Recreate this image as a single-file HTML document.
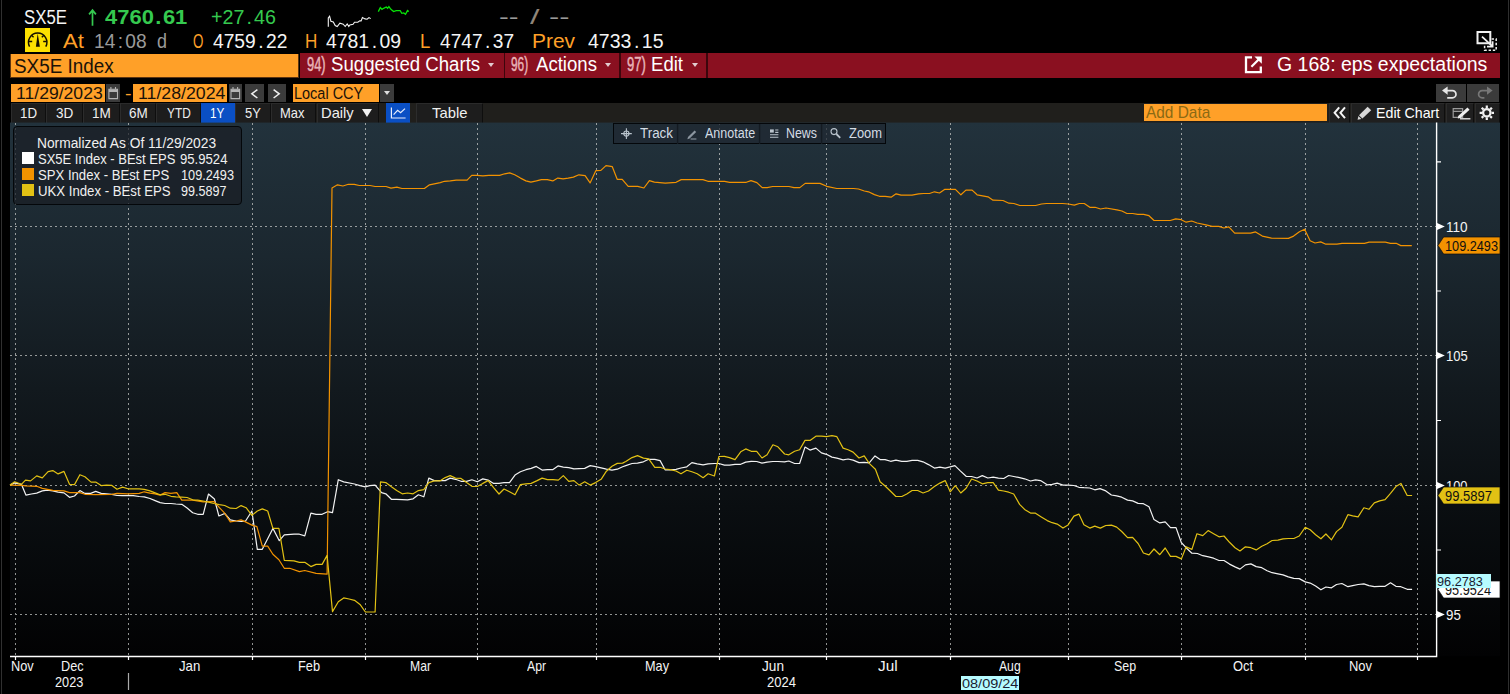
<!DOCTYPE html>
<html lang="en"><head><meta charset="utf-8"><title>SX5E Index - G 168: eps expectations</title>
<style>
html,body{margin:0;padding:0;background:#000}
body{width:1510px;height:694px;position:relative;overflow:hidden;font-family:"Liberation Sans",sans-serif}
.t{position:absolute;white-space:pre;line-height:1;transform-origin:0 0;display:block}
.t i{font-style:normal}
.b{position:absolute}
.chart{position:absolute;left:0;top:0}
.btn{position:absolute;background:#3b3b3b}
.tab{position:absolute;top:103px;height:19.7px;background:#1d1d1d;border-right:1px solid #0e0e0e;border-left:1px solid #2c2c2c;border-top:1px solid #2a2a2a;box-sizing:border-box}
.dd{position:absolute;width:0;height:0;border-left:3.2px solid transparent;border-right:3.2px solid transparent;border-top:4.6px solid #e2ccd0}
.sep{position:absolute;top:53px;height:25px;width:1.4px;background:#3c060c}
svg{display:block}
</style></head><body>
<!-- window edges -->
<div class="b" style="left:1px;top:0;width:1px;height:694px;background:#303030"></div>
<div class="b" style="left:1507.8px;top:0;width:1.4px;height:694px;background:#2e2e2e"></div>

<!-- header -->
<div class="b" id="gauge" style="left:25px;top:28px;width:25.2px;height:24px;background:#fde100">
<svg width="25.2" height="24" viewBox="0 0 25.2 24"><g fill="none" stroke="#141000" stroke-width="1.45">
<path d="M4.6 18.6A9.2 9.2 0 1 1 20.8 18.6"/><path d="M3.6 13.6H7.2M18.2 13.6H21.8M6.4 7.2L8.6 9.2M19 7.2L16.8 9.2"/></g>
<path d="M12.7 5.6L10.9 18.7H14.9Z" fill="#141000"/></svg></div>
<svg class="b" style="left:86px;top:8px" width="14" height="20" viewBox="0 0 14 20"><path d="M6.5 2.4V17.8M3.1 6.4L6.5 2.1L9.9 6.4" fill="none" stroke="#35c94f" stroke-width="1.7"/></svg>
<svg class="b" style="left:320px;top:0" width="100" height="32" viewBox="320 0 100 32" fill="none" stroke-width="1.1">
<path d="M328.3 26.8V17.9L329.6 16.2L330.9 21.2L333.3 21.9L335.2 25.5L337.2 26.5L339.9 23.2L343.2 24.2L345.2 26.5L347.2 23.9L348.8 26.5L349.8 24.9L353.1 24.2L354.5 22.2L357.8 22.2L359.8 20.9L361.1 20.9L362.4 17.6L365.1 18.9L367.1 19.2L369 17.6L370.7 18.6" stroke="#f4f4f4"/>
<path d="M378.3 11.6L380.3 7.6L382 9.3L383.6 8.3L386.3 7L387.6 8.3L388.9 6.6L390.9 9.3L393.6 11.6L396.2 10.6L400.2 10.6L401.8 13.3L403.8 12.9L405.5 14.2L407.5 10.6L408.8 11.6" stroke="#08e008" stroke-width="1.3"/></svg>
<!-- top-right window icon -->
<svg class="b" style="left:1474px;top:29px" width="26" height="25" viewBox="1474 29 26 25" fill="none" stroke="#f0f0f0">
<path d="M1477.5 32H1490.3V43.2H1477.5Z" stroke-width="2"/><path d="M1482 36.6L1492.2 46.2M1492.6 41.2V46.6H1487" stroke-width="1.8"/>
<path d="M1491.6 39H1496.2V50.2H1484.6V44.6" stroke-width="1.5" stroke-dasharray="2.4 1.8"/></svg>


<!-- security bar -->
<div class="b" style="left:10px;top:54px;width:289.4px;height:24px;background:#5e3410"></div><div class="b" style="left:11px;top:54px;width:287.4px;height:22.9px;background:#ffa028"></div>
<div class="b" style="left:300px;top:53px;width:1200px;height:25px;background:#8a1020"></div>
<div class="sep" style="left:503.8px"></div><div class="sep" style="left:619.4px"></div><div class="sep" style="left:706.4px"></div>
<div class="dd" style="left:488.4px;top:63px"></div><div class="dd" style="left:605.4px;top:63px"></div><div class="dd" style="left:692.2px;top:63px"></div>
<svg class="b" style="left:1243px;top:54px" width="22" height="22" viewBox="1243 54 22 22" fill="none" stroke="#fff" stroke-width="2.3">
<path d="M1252 57.4H1246V72.2H1260.8V66.4"/><path d="M1251.4 66.8L1260.4 57.8" stroke-width="2.2"/><path d="M1254.4 56.4H1261.8V63.8Z" fill="#fff" stroke="none"/></svg>

<!-- date row -->
<div class="b" style="left:11px;top:84px;width:94px;height:17.8px;background:#ffa028"></div>
<div class="btn" style="left:106.4px;top:84px;width:13.6px;height:17.8px"></div>
<div class="b" style="left:132.6px;top:84px;width:94.8px;height:17.8px;background:#ffa028"></div>
<div class="btn" style="left:228.5px;top:84px;width:13.6px;height:17.8px"></div>
<div class="btn" style="left:245.3px;top:84px;width:18.9px;height:17.8px"></div>
<div class="btn" style="left:267.5px;top:84px;width:18px;height:17.8px"></div>
<div class="b" style="left:292.6px;top:84px;width:86px;height:17.8px;background:#ffa028"></div>
<div class="btn" style="left:380px;top:84px;width:14px;height:17.8px"></div>
<div class="dd" style="left:383.8px;top:91px;border-top-color:#e0e0e0"></div>
<svg class="b" style="left:106px;top:84px" width="140" height="18" viewBox="106 84 140 18" fill="none" stroke="#b4b4b4" stroke-width="1.1">
<path d="M108.9 89.2H117.5V98.6H108.9ZM108.9 91.4H117.5M110.9 87V89.6M115.5 87V89.6"/><path d="M108.9 89.4H117.5V91.2H108.9Z" fill="#b4b4b4" stroke="none"/>
<path d="M231 89.2H239.6V98.6H231ZM231 91.4H239.6M233 87V89.6M237.6 87V89.6"/><path d="M231 89.4H239.6V91.2H231Z" fill="#b4b4b4" stroke="none"/></svg>
<svg class="b" style="left:245px;top:84px" width="42" height="18" viewBox="245 84 42 18" fill="none" stroke="#f0f0f0" stroke-width="1.5">
<path d="M257.4 89.6L251.8 93.8L257.4 98"/><path d="M273.6 89.6L279.2 93.8L273.6 98"/></svg>
<div class="btn" style="left:1435.8px;top:84px;width:30.2px;height:17.6px"></div>
<div class="btn" style="left:1467.2px;top:84px;width:32.2px;height:17.6px"></div>
<svg class="b" style="left:1435px;top:84px" width="66" height="18" viewBox="1435 84 66 18" fill="none">
<path d="M1446.8 90.6H1452.4A3.6 3.6 0 0 1 1452.4 97.8H1447.2" stroke="#e6e6e6" stroke-width="1.7"/><path d="M1442 90.6L1447.6 86.4V94.8Z" fill="#e6e6e6"/>
<path d="M1487.8 90.6H1482.2A3.6 3.6 0 0 0 1482.2 97.8H1484.4" stroke="#777" stroke-width="1.7"/><path d="M1492.6 90.6L1487 86.4V94.8Z" fill="#777"/></svg>

<!-- range tab row -->
<div class="b" style="left:11px;top:103px;width:1489px;height:19.7px;background:#201f1c"></div>
<div class="tab" style="left:11px;width:35.4px"></div>
<div class="tab" style="left:46.4px;width:36.8px"></div>
<div class="tab" style="left:83.2px;width:36.6px"></div>
<div class="tab" style="left:119.8px;width:36.4px"></div>
<div class="tab" style="left:156.2px;width:44.4px"></div>
<div class="tab" style="left:200.6px;width:34.2px;background:#0a4fc4;border-color:#0a4fc4"></div>
<div class="tab" style="left:234.8px;width:36.2px"></div>
<div class="tab" style="left:271px;width:44.6px"></div>
<div class="tab" style="left:317px;width:62px"></div>
<div class="tab" style="left:385.6px;width:24.6px;background:#0a4fc4;border-color:#0a4fc4"></div>
<div class="tab" style="left:415.6px;width:67.6px"></div>
<div class="b" style="left:362.2px;top:109.2px;width:0;height:0;border-left:5px solid transparent;border-right:5px solid transparent;border-top:8.4px solid #f0f0f0"></div>
<svg class="b" style="left:385.6px;top:103.2px" width="24.6" height="19.4" viewBox="0 0 24.6 19.4" fill="none" stroke="#e8eefc" stroke-width="1.2">
<path d="M5.4 4.4V15H19.6"/><path d="M7.6 11.6L11.6 7.4L14.6 9.8L19 5.6"/></svg>
<div class="b" style="left:1144px;top:103.6px;width:183.4px;height:17.8px;background:#ffa028"></div>
<div class="tab" style="left:1329px;width:21px;background:#1f1f1f"></div>
<div class="tab" style="left:1351.4px;width:93.8px;background:#1f1f1f"></div>
<div class="tab" style="left:1446.2px;width:27.6px;background:#1f1f1f"></div>
<div class="tab" style="left:1474.6px;width:25.4px;background:#1f1f1f"></div>
<svg class="b" style="left:1329px;top:103px" width="171" height="20" viewBox="1329 103 171 20" fill="none">
<path d="M1339.2 107.4L1334.6 112.8L1339.2 118.2M1345 107.4L1340.4 112.8L1345 118.2" stroke="#f4f4f4" stroke-width="2"/>
<path d="M1367.6 106.8L1371.2 110.2L1362.4 118.4L1359 115.2Z" fill="#d8d8d8"/><path d="M1358.4 116L1361.4 119L1357.6 119.8Z" fill="#d8d8d8"/>
<path d="M1453.2 108.6H1462.6V117.4H1453.2ZM1453.2 111.4H1462.6" stroke="#9a9a9a" stroke-width="1.2"/>
<path d="M1467.4 107.6L1469.6 109.8L1460.4 118L1457.8 118.6L1458.2 116Z" fill="#f0f0f0"/><path d="M1460 118.8H1470.4" stroke="#f0f0f0" stroke-width="1.3"/>
<g stroke="#f0f0f0"><circle cx="1486.8" cy="112.8" r="3.7" stroke-width="2.3"/>
<path d="M1486.8 105.6V108M1486.8 117.6V120M1479.6 112.8H1482M1491.6 112.8H1494M1481.7 107.7L1483.4 109.4M1490.2 116.2L1491.9 117.9M1481.7 117.9L1483.4 116.2M1490.2 109.4L1491.9 107.7" stroke-width="2.2"/></g></svg>

<!-- chart -->
<svg class="chart" width="1510" height="694" viewBox="0 0 1510 694">
<defs><linearGradient id="bg" x1="0" y1="0" x2="0" y2="1"><stop offset="0" stop-color="#22323c"/><stop offset="0.25" stop-color="#1b272f"/><stop offset="0.5" stop-color="#12191e"/><stop offset="0.72" stop-color="#0a0e11"/><stop offset="1" stop-color="#020203"/></linearGradient></defs>
<rect x="10" y="122.6" width="1490" height="534" fill="url(#bg)"/>
<rect x="10" y="656.6" width="1490" height="38" fill="#000"/>
<path d="M15.5 123V656M128.5 123V656M252.5 123V656M365.5 123V656M477.5 123V656M596.5 123V656M719.5 123V656M826.5 123V656M950.5 123V656M1068.5 123V656M1181.5 123V656M1305.5 123V656M1417.5 123V656M10 226.5H1436M10 355.5H1436M10 485.5H1436M10 614.5H1436" stroke="#c4c6c4" stroke-width="1" stroke-dasharray="2 3" fill="none" opacity="0.74" shape-rendering="crispEdges"/>
<!--LINES-->
<path d="M10 485.1 L14.7 482.9 L21.4 484.3 L25.9 495.1 L31.4 494 L36.7 493.1 L42.3 490.9 L47.3 490.1 L52.8 490.9 L58.1 492.1 L64 492.9 L69.5 497.3 L74.5 496 L79.9 490.6 L84.9 493.4 L90.7 493.4 L95.7 491.4 L101.2 493.4 L106.6 493.8 L111.9 494.3 L117 495.5 L122.5 495.6 L128 495.6 L133.3 495.6 L139.2 496.5 L144.2 496.8 L150 498.5 L155.1 500.6 L160.1 502.6 L165.1 503.5 L170.9 503.5 L175.9 504 L181.8 504.3 L187.1 508 L192.7 512.7 L197.7 514.3 L203.2 514.3 L208.5 494 L214.4 499 L218.9 516 L224.7 513.5 L230.3 519.9 L236.1 521 L241.1 521.3 L245.4 521.2 L251.9 511 L257.3 549.3 L262.3 549.3 L272.9 528.4 L279.3 540.7 L284.3 534.8 L294 534.2 L299.4 534.2 L304.8 535.9 L310.9 513.2 L316.1 514.3 L322.1 514.3 L327.5 511.7 L332.5 512.6 L338.3 479.7 L343.7 481.9 L354.5 484 L359.9 485.6 L365.4 486.9 L369.7 485.6 L375.1 485.1 L381.6 492.7 L385.8 493.8 L391.4 499.3 L396.7 499.3 L407.6 499.8 L413.1 498.8 L418.4 494.8 L423.8 496.8 L428.8 478.1 L434.3 480.6 L445.2 480.6 L450.2 478.1 L455.5 479.3 L461 481.3 L466.6 481.4 L471.9 479.8 L477.3 481.8 L482.8 478.9 L488.1 480.1 L493.6 483.4 L499 483.4 L504 482.6 L509.5 482.6 L515 475.1 L520.4 471.8 L525.9 469.7 L531.2 468.4 L536.3 466.4 L542.1 470.1 L547.4 469.6 L553 469.6 L558 465.9 L563.3 467.1 L568.8 467.6 L573.9 468.9 L579.2 468.7 L584.7 468.4 L590.2 465.6 L595.6 466.7 L601.1 467.9 L606.4 469.2 L612 470.1 L617.3 469.2 L622.6 466.7 L625.8 465.6 L632 463.5 L637.5 463.1 L643.4 461.8 L648.7 459.3 L654.8 459.3 L660.1 460.6 L665.1 469.8 L670.1 469.8 L676 469.3 L681 468 L686.8 466.8 L691.9 462.6 L697.2 463.8 L703.1 464.8 L708.1 463.8 L714.4 463.5 L718.9 463.5 L724.4 465.1 L729.5 465.1 L735 464.3 L740.7 464.3 L745.7 462.1 L751.2 461.3 L756.7 461.5 L762 463.1 L767.1 462.1 L772.9 461.5 L777.9 461.5 L784.6 461.8 L788.8 461 L794.6 463.5 L799.6 463.5 L805 447.1 L810 450.1 L815.9 448.1 L821.4 452.9 L826.4 454.3 L831.9 457.1 L836.9 458.1 L843.1 459.8 L848.1 459 L853.1 460.1 L859 462.6 L864.2 462.3 L869.2 462.9 L875 455.9 L880.1 459.6 L885.1 459.6 L890.6 461.3 L895.9 460.1 L901.8 461.3 L906.8 461.3 L912.1 460.4 L917.7 460.4 L923 461.8 L928.5 464.6 L934.4 468.1 L939.9 467.1 L945.2 468.1 L950.2 466.8 L954.9 465.6 L960.3 470.9 L966.1 476.3 L971.6 476.5 L977 478 L982.3 475.6 L987.8 478 L993.2 477.1 L998.4 478.1 L1003.7 478.5 L1008.7 475.5 L1013.7 476.5 L1019.6 477.6 L1024.6 478.8 L1030.5 481 L1035.5 479.8 L1040.5 480.6 L1047.2 484.8 L1052.2 484.3 L1057.2 483.1 L1063 485.1 L1068.1 485.1 L1073.9 485.5 L1078.9 487.3 L1083.9 487.7 L1089.8 488 L1094.8 489.8 L1100 488.6 L1105.8 490.9 L1111.4 495 L1116.7 495.9 L1121.7 497.2 L1127.6 500.1 L1132.6 500.9 L1138.1 503.4 L1143.4 503.7 L1149 506.7 L1154 519.6 L1159.8 522.9 L1165.2 521.8 L1170.5 527.6 L1176 527.6 L1181.4 542.7 L1186.9 548.5 L1191.9 553.2 L1197.4 553.5 L1202.8 555.7 L1208.6 556.9 L1213.6 558.2 L1219 560.5 L1224 560.5 L1229.5 564.1 L1235 566.9 L1240 569.1 L1245.4 564.9 L1250.9 563.9 L1256.2 566.6 L1261.8 567.7 L1267.1 570.7 L1272.1 572.7 L1278 573.9 L1283 574.9 L1288.3 576.9 L1293.8 578.3 L1299.2 578.6 L1305.2 581.9 L1310.2 583.1 L1315.6 586.1 L1320.9 589.8 L1325.9 587 L1331.5 587.8 L1336.5 584.5 L1341.9 583.5 L1347.9 586.7 L1352.7 585.6 L1358.1 584.5 L1363.9 583.9 L1368.9 585.6 L1374.3 586.7 L1379.7 586.3 L1385.1 586.3 L1390.5 582.8 L1395.9 586.3 L1400.9 586.7 L1407.2 589.3 L1412.1 589.3" stroke="#f2f2f2" stroke-width="1.2" fill="none" stroke-linejoin="round"/>
<path d="M10 485.1 L21.4 485.4 L25.9 485.9 L36.7 486.3 L42.3 488.4 L52.8 490.4 L64 490.9 L69.5 492.6 L79.9 492.6 L84.9 494.3 L95.7 494.6 L111.9 494.3 L117 493.4 L128 493.8 L139.2 493.4 L144.2 491.8 L150 493.1 L155.1 493.8 L160.1 495.1 L165.1 492.6 L170.9 493.4 L176.8 492.6 L181.8 500.1 L192.7 500.1 L203.2 501.8 L213.9 501.5 L219.4 507.7 L224.7 513.2 L230.3 521.9 L236.1 521 L241.1 519.9 L245.4 521.9 L251.9 525.1 L256.9 526.6 L262.3 546.1 L267.7 546.1 L272.9 554.3 L278.9 559.7 L284.3 568.3 L289.7 568.3 L299.4 571.6 L304.8 570.5 L316.1 573.3 L327.1 574.2 L332 188 L337.5 184.8 L342.9 186 L348.4 184.3 L354.3 184.3 L359.3 185.5 L370.1 185.5 L375.1 186.5 L386 186.5 L391 188.1 L396.9 187.1 L401.9 188.5 L424.4 188.5 L429.5 184.8 L440.3 182.6 L444.5 181.3 L450.3 180.9 L456.2 180.1 L467.1 180.1 L471.7 175.4 L477.1 175.4 L482.9 175.9 L488.8 175.4 L499.6 175.4 L504.7 173.8 L509.7 172.9 L514.7 174.8 L520.5 178.1 L525.9 180.9 L530.9 182.1 L536.4 180.9 L541.4 179.6 L547.3 179.6 L552.8 180.9 L557.8 178.1 L563.1 178.9 L568.2 178.1 L573.4 177.1 L578.9 174.8 L585.1 175.6 L590.1 182.9 L595.9 170.6 L600.9 170.4 L606 165.6 L612.3 166.7 L617.2 179.3 L622.2 179.3 L628.2 186.3 L637.7 186.3 L643.9 188 L649.4 180.6 L654.4 182.1 L665.3 183.1 L676.1 182.3 L681.2 179.6 L702.9 179.6 L707.9 181.3 L724.6 181.3 L729.6 182.3 L746.3 182.3 L751 180.6 L756.9 182.6 L762.2 187.6 L767.2 187.6 L772.6 186.5 L788.9 186.5 L794 187.6 L799.8 187.6 L805.2 183.4 L820 183.4 L826.7 186.3 L836.8 188.5 L853.5 188.5 L858.5 189 L864.3 191 L868.5 191.8 L874.4 194.6 L879.4 196.3 L885.2 196.3 L891.1 197.2 L896.1 193.8 L901.1 195.1 L912 195.1 L918.6 193.8 L923.7 193.5 L929.5 193.5 L934.5 191.8 L939.5 193 L944.9 189.3 L955.4 189.3 L960.9 194.8 L965.9 190.1 L972.1 190.1 L977.1 194.8 L988 196.8 L993 200.2 L1003 200.5 L1008.9 203.2 L1013.9 203.5 L1019.8 205.5 L1035.6 205.5 L1041.5 204 L1046.5 203.5 L1062.6 203.5 L1068.4 204 L1074.3 205.1 L1079.3 203.5 L1084.3 203.5 L1089.8 207.3 L1095.1 207.3 L1100.5 209 L1106 208 L1116.9 209.8 L1121.9 211 L1126.9 213.5 L1132.7 213.5 L1137.8 214.3 L1143.6 214.3 L1149 215.7 L1154 220.5 L1170.3 220.5 L1175.7 218.9 L1181.2 219.7 L1186.2 222.2 L1191.7 221 L1197.1 223 L1207.1 225.2 L1212.1 226.4 L1218.8 226.4 L1223.8 228 L1228.8 226.9 L1234.7 233.2 L1250.6 233.2 L1255.6 231.9 L1262.3 236.1 L1271.5 238.2 L1288.4 238.4 L1293.6 236.1 L1299.4 231.7 L1304.6 229.2 L1310.1 240.7 L1315 243 L1320.7 241.9 L1325.9 244.2 L1336.9 244.2 L1342 243.3 L1364.5 243.3 L1369.1 242.2 L1385.3 242.2 L1390.4 243.3 L1396.2 243.3 L1400.8 245.6 L1411.8 245.6" stroke="#f29200" stroke-width="1.2" fill="none" stroke-linejoin="round"/>
<path d="M10 485.1 L14.7 481.8 L21.4 484.3 L25.5 480.1 L30.6 480.9 L36.7 475.9 L42.3 477.9 L48.1 471.7 L52.8 470.6 L58.1 473.9 L64 471.4 L69.5 484.3 L74.5 484.6 L79.9 474.7 L84.9 476.7 L91.1 482.1 L95.7 482.1 L101.2 485.6 L106.6 485.1 L111.9 485.4 L117 489.3 L122.5 487.1 L128 488.8 L133.3 488.8 L139.2 488.8 L144.2 489.3 L150 490.9 L155.1 492.9 L160.1 494.8 L165.1 494.3 L170.9 496.3 L175.9 496.8 L181.8 497.1 L187.1 497.5 L192.7 499.8 L197.7 500.1 L203.2 501 L208.5 502.1 L213.9 503.5 L219.4 504.6 L224.7 505.5 L230.3 508.2 L236.1 508.5 L241.1 505.6 L246.1 507.7 L251.9 515.4 L257.3 511 L262.3 508.9 L267.7 511 L272.9 528.4 L278.9 528.4 L284.3 560.3 L294 560.8 L299.4 562.3 L304.8 562.3 L310.9 566.6 L316.1 564.4 L322.1 564.4 L327.1 555.4 L332.5 611.6 L338.3 601.8 L343.7 597.9 L349.1 599 L354.5 600.3 L360 604.4 L365.4 612 L375.1 612 L380.5 481.9 L385.8 482.6 L391.4 486.8 L396.7 490.5 L402.2 493.8 L407.6 493 L413.1 493.8 L418.4 490.6 L423.8 489.6 L428.8 482.6 L434.3 480.9 L439.8 480.9 L445.2 477.6 L450.2 475.6 L455.5 478.1 L461 478.4 L466.6 482.6 L471.9 486.3 L477.3 486.5 L482.8 483.4 L488.1 480.6 L493.6 487.6 L499 494 L504 489 L509.5 491.8 L515 494.8 L520.4 484.6 L525.9 483.8 L531.2 483.4 L536.6 480.9 L542.1 478.1 L547.4 479.6 L553 479.6 L558.3 480.1 L563.3 475.6 L568.8 481.4 L573.9 480.6 L579.2 485.1 L584.7 481.8 L590.2 485.1 L595.6 482.6 L601.1 479.3 L606.4 471.2 L612 466.2 L617.3 463.4 L622.6 463.1 L625.8 461.5 L632 457.6 L637.5 455.6 L643.4 458.1 L648.7 458.8 L654.8 467.3 L660.1 467.3 L665.1 469 L670.1 469.7 L676 471 L681 473.8 L686.8 470.2 L691.9 471.8 L697.2 473.8 L703.1 477.7 L708.1 473.8 L714.4 476 L718.9 456.5 L724.4 456.3 L729.5 457.6 L735 459.6 L740.7 451.8 L745.7 448.9 L751.2 451.3 L756.7 451.3 L762 458 L767.1 454.8 L772.9 444.8 L777.9 446.8 L784.6 454 L788.8 454.8 L794.6 451.3 L799.6 449.8 L805 440.4 L810 440.4 L815.9 436.2 L821.4 436.2 L826.4 436.7 L831.9 435.6 L836.9 436.7 L843.1 448.1 L848.1 449.8 L853.1 452.1 L859 458 L864.2 455.9 L869.2 463.4 L875.4 469.3 L880.1 481.8 L885.1 486 L890.6 491.3 L895.9 496.5 L901.8 496.5 L906.8 494 L912.1 490.5 L917.7 490.5 L923 493 L928.5 491 L934.4 486.5 L939.9 483.1 L945.2 480.6 L950.2 491.8 L955.3 485.6 L960.8 493 L966.1 488.2 L971.6 479 L977 481 L982.3 483.8 L987.8 482.6 L993.2 482.6 L998.4 490.2 L1003.7 491 L1008.7 492.2 L1013.7 494 L1019.6 504.4 L1024.6 509.4 L1030.5 513.1 L1035.5 513.2 L1041.3 516.9 L1047.2 520.6 L1052.2 522.7 L1057.2 524.1 L1063 528.1 L1068.1 524.9 L1073.9 516.1 L1078.9 514.1 L1083.9 524.8 L1089.8 528.1 L1094.8 526.1 L1100.3 528.1 L1105.8 525.5 L1111.4 525.1 L1116.7 527.1 L1121.7 531.5 L1127.6 537.7 L1132.6 537.3 L1138.1 543.5 L1143.4 553 L1149 554.9 L1154 549 L1159.8 554.7 L1165.2 548 L1170.5 556.4 L1176 556.4 L1181.4 558.9 L1186.1 546.8 L1191.9 549.4 L1196.9 533.8 L1202.8 535.6 L1208.1 530.6 L1213.6 533.8 L1219 536.8 L1224 536 L1229.5 542.3 L1235 547.7 L1240 551 L1245.4 546.8 L1250.9 547.7 L1256.2 549.9 L1261.8 546.3 L1267.1 543.8 L1272.1 540.5 L1278 540.2 L1283 538.8 L1288.3 538.5 L1293.8 538.5 L1299.2 536 L1305.2 527.3 L1310.2 529.8 L1315.6 534.8 L1320.9 538.8 L1325.9 534 L1331.5 539.8 L1336.5 531.6 L1341.9 527.3 L1347.9 514.7 L1352.7 515.8 L1358.1 516.9 L1363.9 507.8 L1368.9 509.3 L1374.3 502.9 L1379.7 500.9 L1385.1 499.6 L1390.5 493.3 L1395.9 486.6 L1400.9 483.4 L1407.2 495.5 L1412.1 495.5" stroke="#e2c114" stroke-width="1.2" fill="none" stroke-linejoin="round"/>
<path d="M1436.6 122.6V657.2M10 656.5H1437.2" stroke="#fff" stroke-width="1.4" fill="none"/>
<path d="M15.5 656V660M128.5 656V660M252.5 656V660M365.5 656V660M477.5 656V660M596.5 656V660M719.5 656V660M826.5 656V660M950.5 656V660M1068.5 656V660M1181.5 656V660M1305.5 656V660M1417.5 656V660" stroke="#fff" stroke-width="1.2" fill="none"/>
<path d="M1437 161.9H1441M1437 291H1441M1437 420.5H1441M1437 550H1441" stroke="#fff" stroke-width="1.2" fill="none"/>
<path d="M1437 223.1L1444.8 226.5L1437 229.9Z" fill="#fff"/>
<path d="M1437 352.1L1444.8 355.5L1437 358.9Z" fill="#fff"/>
<path d="M1437 482.1L1444.8 485.5L1437 488.9Z" fill="#fff"/>
<path d="M1437 611.1L1444.8 614.5L1437 617.9Z" fill="#fff"/>
<path d="M128.5 673V690" stroke="#aaa" stroke-width="1.2"/>
</svg>
<div class="b" style="left:13px;top:126px;width:228.6px;height:79.4px;background:rgba(26,31,38,.72);border:1px solid #04070a;border-radius:4px;box-sizing:border-box"></div>
<div class="b" style="left:22px;top:152px;width:12px;height:12px;background:#fff"></div>
<div class="b" style="left:22px;top:168px;width:12px;height:12px;background:#f29200"></div>
<div class="b" style="left:22px;top:184px;width:12px;height:12px;background:#e2c114"></div>
<div class="b" style="left:613px;top:123px;width:272.6px;height:21.4px;background:rgba(33,41,50,.74);border:1px solid #04070a;box-sizing:border-box"></div>
<svg class="b" style="left:613px;top:123px" width="273" height="22" viewBox="613 123 273 22" fill="none" stroke="#b9c3cc" stroke-width="1.1">
<path d="M677.6 124V144M759.6 124V144M821.6 124V144" stroke="#141b22" stroke-width="1.4"/>
<circle cx="626.4" cy="133.6" r="2.6"/><path d="M626.4 128.2V139M621 133.6H631.8"/>
<path d="M688 137L694.6 130.4L696.2 132L689.6 138.6L687.4 139.2Z" fill="#8c96a0" stroke="none"/><path d="M690.6 139H696.4" stroke="#8c96a0"/>
<path d="M770 129.4H773.8V132.6H770Z" fill="#b9c3cc" stroke="none"/><path d="M775.2 130H778.4M775.2 132.4H778.4M770 134.8H778.4M770 137.2H778.4" />
<circle cx="834" cy="131.6" r="3"/><path d="M836.4 134L840.2 137.8" stroke-width="1.8"/></svg>
<span class="t" style="left:24.38px;top:8px;font-size:19.6px;color:#f4f4f4;transform:scaleX(0.8565)">SX5E</span>
<span class="t" style="left:105px;top:8px;font-size:19.6px;color:#35c94f;transform:scaleX(1.1211);font-weight:bold">4760<i style="padding:0 1.3px">.</i>61</span>
<span class="t" style="left:211.18px;top:8px;font-size:19.6px;color:#35c94f;transform:scaleX(1.0051)">+27<i style="padding:0 2.1px">.</i>46</span>
<span class="t" style="left:499.08px;top:8px;font-size:19.6px;color:#9a9a9a;transform:scaleX(1.5000)">--</span>
<span class="t" style="left:530px;top:7px;font-size:20.6px;color:#8f8578;transform:scaleX(1.6570)">/</span>
<span class="t" style="left:548.64px;top:8px;font-size:19.6px;color:#9a9a9a;transform:scaleX(1.5682)">--</span>
<span class="t" style="left:62.6px;top:32px;font-size:19.6px;color:#ffa028;transform:scaleX(1.1299)">At</span>
<span class="t" style="left:94.1px;top:32px;font-size:19.6px;color:#9a9a9a;transform:scaleX(0.9782)">14<i style="padding:0 2.4px">:</i>08</span>
<span class="t" style="left:156.94px;top:32px;font-size:19.6px;color:#9a9a9a;transform:scaleX(0.9143)">d</span>
<span class="t" style="left:193.37px;top:32px;font-size:19.6px;color:#ffa028;transform:scaleX(0.6827)">O</span>
<span class="t" style="left:213px;top:32px;font-size:19.6px;color:#f4f4f4;transform:scaleX(0.9806)">4759<i style="padding:0 2.5px">.</i>22</span>
<span class="t" style="left:305.27px;top:32px;font-size:19.6px;color:#ffa028;transform:scaleX(0.8707)">H</span>
<span class="t" style="left:325.7px;top:32px;font-size:19.6px;color:#f4f4f4;transform:scaleX(0.9900)">4781<i style="padding:0 2.5px">.</i>09</span>
<span class="t" style="left:420.15px;top:32px;font-size:19.6px;color:#ffa028;transform:scaleX(0.9458)">L</span>
<span class="t" style="left:439.7px;top:32px;font-size:19.6px;color:#f4f4f4;transform:scaleX(0.9766)">4747<i style="padding:0 2.5px">.</i>37</span>
<span class="t" style="left:531.96px;top:32px;font-size:19.6px;color:#ffa028;transform:scaleX(1.0679)">Prev</span>
<span class="t" style="left:588.3px;top:32px;font-size:19.6px;color:#f4f4f4;transform:scaleX(0.9953)">4733<i style="padding:0 2.5px">.</i>15</span>
<span class="t" style="left:14.11px;top:57px;font-size:19.6px;color:#1a1208;transform:scaleX(0.9631)">SX5E Index</span>
<span class="t" style="left:306.99px;top:54px;font-size:20px;color:#e8b4b8;transform:scaleX(0.6460);-webkit-text-stroke:0.5px #e8b4b8">94)</span>
<span class="t" style="left:331.02px;top:54px;font-size:20px;color:#ffffff;transform:scaleX(0.9317)">Suggested Charts</span>
<span class="t" style="left:511.44px;top:54px;font-size:20px;color:#e8b4b8;transform:scaleX(0.5941);-webkit-text-stroke:0.5px #e8b4b8">96)</span>
<span class="t" style="left:535.6px;top:54px;font-size:20px;color:#ffffff;transform:scaleX(0.9298)">Actions</span>
<span class="t" style="left:627.39px;top:54px;font-size:20px;color:#e8b4b8;transform:scaleX(0.6535);-webkit-text-stroke:0.5px #e8b4b8">97)</span>
<span class="t" style="left:650.95px;top:54px;font-size:20px;color:#ffffff;transform:scaleX(0.9282)">Edit</span>
<span class="t" style="left:1276.69px;top:54px;font-size:20px;color:#ffffff;transform:scaleX(0.9751)">G 168: eps expectations</span>
<span class="t" style="left:15.8px;top:86px;font-size:16.8px;color:#1a1208;transform:scaleX(1.0480)">11/29/2023</span>
<span class="t" style="left:125.19px;top:86px;font-size:16.8px;color:#ffa028;transform:scaleX(1.1653)">-</span>
<span class="t" style="left:138.19px;top:86px;font-size:16.8px;color:#1a1208;transform:scaleX(1.0557)">11/28/2024</span>
<span class="t" style="left:293.87px;top:86px;font-size:16.8px;color:#1a1208;transform:scaleX(0.8629)">Local CCY</span>
<span class="t" style="left:20.07px;top:106px;font-size:15.6px;color:#f0f0f0;transform:scale(0.8521,0.9167)">1D</span>
<span class="t" style="left:56.18px;top:106px;font-size:15.6px;color:#f0f0f0;transform:scale(0.8671,0.9167)">3D</span>
<span class="t" style="left:92.15px;top:106px;font-size:15.6px;color:#f0f0f0;transform:scale(0.8705,0.9167)">1M</span>
<span class="t" style="left:129.17px;top:106px;font-size:15.6px;color:#f0f0f0;transform:scale(0.8648,0.9167)">6M</span>
<span class="t" style="left:166.71px;top:106px;font-size:15.6px;color:#f0f0f0;transform:scale(0.7595,0.9167)">YTD</span>
<span class="t" style="left:210.27px;top:106px;font-size:15.6px;color:#ffffff;transform:scale(0.7526,0.9167)">1Y</span>
<span class="t" style="left:245.3px;top:106px;font-size:15.6px;color:#f0f0f0;transform:scale(0.8303,0.9167)">5Y</span>
<span class="t" style="left:280.49px;top:106px;font-size:15.6px;color:#f0f0f0;transform:scale(0.8318,0.9167)">Max</span>
<span class="t" style="left:321.25px;top:106px;font-size:15.6px;color:#f0f0f0;transform:scale(0.9446,0.9167)">Daily</span>
<span class="t" style="left:432.17px;top:106px;font-size:15.6px;color:#f0f0f0;transform:scale(0.9501,0.9167)">Table</span>
<span class="t" style="left:1145.6px;top:104px;font-size:17px;color:#8a6a14;transform:scaleX(0.9072)">Add Data</span>
<span class="t" style="left:1376.19px;top:106px;font-size:15.6px;color:#ffffff;transform:scale(0.9121,0.9167)">Edit Chart</span>
<span class="t" style="left:639.79px;top:126px;font-size:14px;color:#d4dce4;transform:scaleX(0.9571)">Track</span>
<span class="t" style="left:705.4px;top:126px;font-size:14px;color:#d4dce4;transform:scaleX(0.8940)">Annotate</span>
<span class="t" style="left:786.43px;top:126px;font-size:14px;color:#d4dce4;transform:scaleX(0.8842)">News</span>
<span class="t" style="left:848.6px;top:126px;font-size:14px;color:#d4dce4;transform:scaleX(0.9242)">Zoom</span>
<span class="t" style="left:37.32px;top:136px;font-size:14px;color:#f0f0f0;transform:scaleX(0.9848)">Normalized As Of 11/29/2023</span>
<span class="t" style="left:37.99px;top:152px;font-size:14px;color:#f0f0f0;transform:scaleX(0.9290)">SX5E Index - BEst EPS</span>
<span class="t" style="left:180.18px;top:152px;font-size:14px;color:#f0f0f0;transform:scaleX(0.9375)">95.9524</span>
<span class="t" style="left:37.99px;top:168px;font-size:14px;color:#f0f0f0;transform:scaleX(0.9372)">SPX Index - BEst EPS</span>
<span class="t" style="left:180.81px;top:168px;font-size:14px;color:#f0f0f0;transform:scaleX(0.9078)">109.2493</span>
<span class="t" style="left:37.58px;top:184px;font-size:14px;color:#f0f0f0;transform:scaleX(0.9414)">UKX Index - BEst EPS</span>
<span class="t" style="left:181.01px;top:184px;font-size:14px;color:#f0f0f0;transform:scaleX(0.8971)">99.5897</span>
<span class="t" style="left:1445.85px;top:219px;font-size:15px;color:#f4f4f4;transform:scaleX(0.9026)">110</span>
<span class="t" style="left:1445.89px;top:348px;font-size:15px;color:#f4f4f4;transform:scaleX(0.8688)">105</span>
<span class="t" style="left:1445.89px;top:478px;font-size:15px;color:#f4f4f4;transform:scaleX(0.8602)">100</span>
<span class="t" style="left:1445.87px;top:607px;font-size:15px;color:#f4f4f4;transform:scaleX(0.8911)">95</span>
<span class="t" style="left:11.2px;top:659px;font-size:14.4px;color:#f4f4f4;transform:scaleX(0.8863)">Nov</span>
<span class="t" style="left:60.71px;top:659px;font-size:14.4px;color:#f4f4f4;transform:scaleX(0.8822)">Dec</span>
<span class="t" style="left:179.39px;top:659px;font-size:14.4px;color:#f4f4f4;transform:scaleX(0.9196)">Jan</span>
<span class="t" style="left:297.5px;top:659px;font-size:14.4px;color:#f4f4f4;transform:scaleX(0.8873)">Feb</span>
<span class="t" style="left:409.75px;top:659px;font-size:14.4px;color:#f4f4f4;transform:scaleX(0.8473)">Mar</span>
<span class="t" style="left:527px;top:659px;font-size:14.4px;color:#f4f4f4;transform:scaleX(0.8506)">Apr</span>
<span class="t" style="left:645.01px;top:659px;font-size:14.4px;color:#f4f4f4;transform:scaleX(0.8819)">May</span>
<span class="t" style="left:761.79px;top:659px;font-size:14.4px;color:#f4f4f4;transform:scaleX(0.9466)">Jun</span>
<span class="t" style="left:878.36px;top:659px;font-size:14.4px;color:#f4f4f4;transform:scaleX(1.0677)">Jul</span>
<span class="t" style="left:999px;top:659px;font-size:14.4px;color:#f4f4f4;transform:scaleX(0.8463)">Aug</span>
<span class="t" style="left:1114.01px;top:659px;font-size:14.4px;color:#f4f4f4;transform:scaleX(0.8622)">Sep</span>
<span class="t" style="left:1232.9px;top:659px;font-size:14.4px;color:#f4f4f4;transform:scaleX(0.8955)">Oct</span>
<span class="t" style="left:1348.99px;top:659px;font-size:14.4px;color:#f4f4f4;transform:scaleX(0.8986)">Nov</span>
<span class="t" style="left:54.7px;top:675px;font-size:14.4px;color:#f4f4f4;transform:scaleX(0.8838)">2023</span>
<span class="t" style="left:767.39px;top:675px;font-size:14.4px;color:#f4f4f4;transform:scaleX(0.9032)">2024</span>
<svg class="chart" width="1510" height="694" viewBox="0 0 1510 694">
<path d="M1438 245.5L1443.6 237H1500V254H1443.6Z" fill="#f29200" stroke="#0c0c0c" stroke-width="0.7"/>
<path d="M1438 495.5L1443.6 487H1500V504H1443.6Z" fill="#e2c114" stroke="#0c0c0c" stroke-width="0.7"/>
<path d="M1438 589.5L1443.6 581H1500V598H1443.6Z" fill="#ffffff" stroke="#0c0c0c" stroke-width="0.7"/>
</svg>
<span class="t" style="left:1445.01px;top:239px;font-size:14.6px;color:#101010;transform:scaleX(0.8705)">109.2493</span>
<span class="t" style="left:1444.59px;top:489px;font-size:14.6px;color:#101010;transform:scaleX(0.8893)">99.5897</span>
<span class="t" style="left:1445px;top:583px;font-size:14.6px;color:#101010;transform:scaleX(0.8719)">95.9524</span>
<div class="b" style="left:1436px;top:574px;width:55px;height:14px;background:#b6fbff"></div>
<div class="b" style="left:961px;top:676px;width:58px;height:14px;background:#b6fbff"></div>
<span class="t" style="left:1436.7px;top:575px;font-size:13px;color:#1a1a30;transform:scaleX(0.9770)">96.2783</span>
<span class="t" style="left:961.85px;top:677px;font-size:13px;color:#1a1a30;transform:scaleX(1.1148)">08/09/24</span>
</body></html>
